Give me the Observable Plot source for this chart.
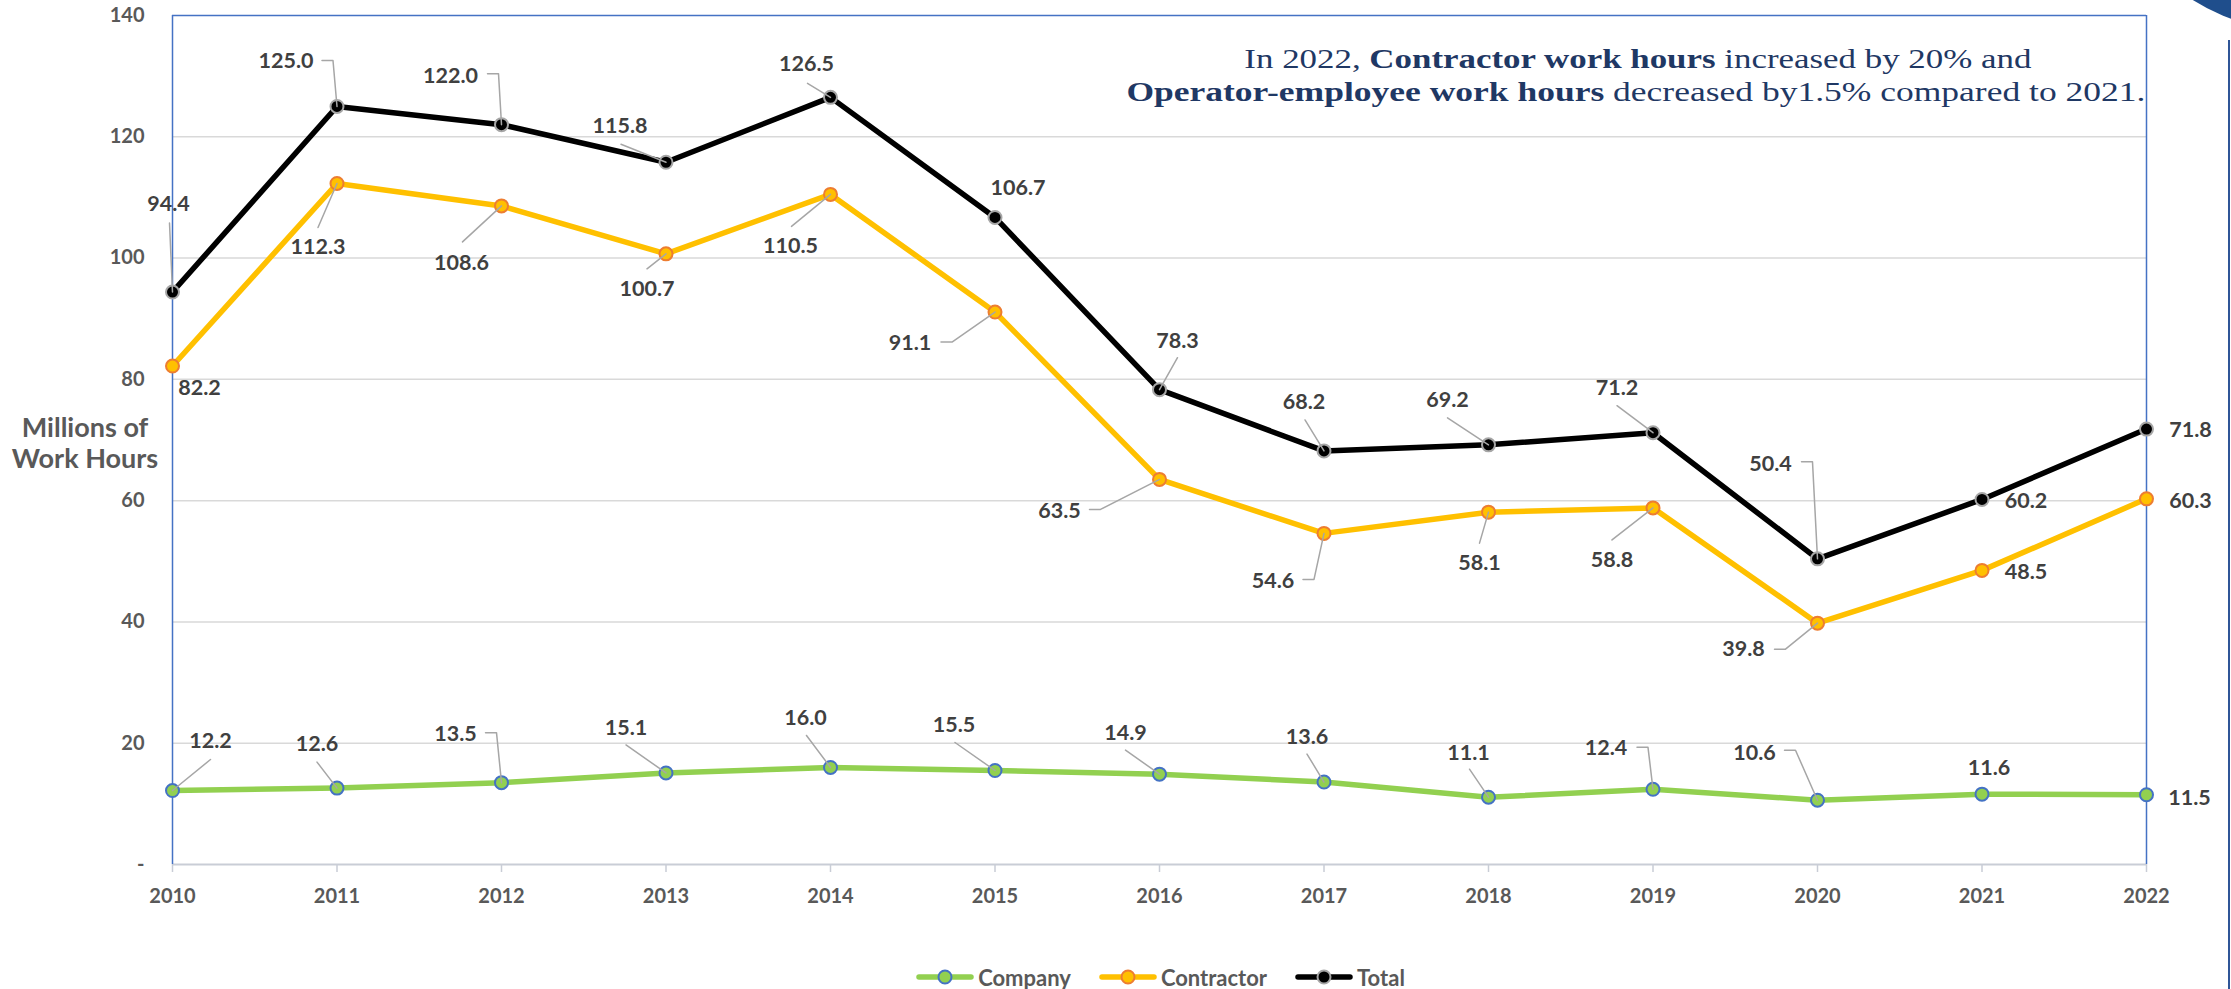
<!DOCTYPE html>
<html>
<head>
<meta charset="utf-8">
<script src="https://cdn.jsdelivr.net/npm/d3@7"></script>
<script src="https://cdn.jsdelivr.net/npm/@observablehq/plot@0.6"></script>
<style>
  html, body { margin: 0; padding: 0; background: #ffffff; }
  #wrap { position: relative; width: 2231px; height: 989px; overflow: hidden; font-family: Lato, "Open Sans", sans-serif; }
  #chart { position: absolute; left: 0; top: 0; }
  #ytitle { position: absolute; left: 0; width: 170px; top: 411px; text-align: center; font: bold 27px/31px Lato, sans-serif; color: #595959; }
  #legend { position: absolute; left: 45px; width: 2231px; top: 958px; height: 38px; display: flex; justify-content: center; align-items: center; font: bold 22px Lato, sans-serif; color: #595959; }
  #legend .item { display: flex; align-items: center; margin: 0 14px; }
  #legend svg { margin-right: 4px; }
  .nl { position: absolute; white-space: nowrap; font-family: "Liberation Serif", "Times New Roman", serif; font-size: 28px; line-height: 28px; color: #1F3864; transform-origin: center center; }
  .nl b { font-weight: bold; }
  #arc { position: absolute; left: 2099px; top: -371px; width: 402px; height: 402px; border-radius: 50%; background: #1F4E8C; }
  #vline { position: absolute; left: 2228px; top: 40px; width: 2px; height: 949px; background: #2F5597; }
</style>
</head>
<body>
<div id="wrap">
  <div id="chart"></div>
  <div id="ytitle">Millions of<br>Work Hours</div>
  <div class="nl" id="note1">In 2022, <b>Contractor work hours</b> increased by 20% and</div>
  <div class="nl" id="note2"><b>Operator-employee work hours</b> decreased by1.5% compared to 2021.</div>
  <div id="legend"></div>
  <div id="arc"></div>
  <div id="vline"></div>
</div>
<script>
// ---------------- data ----------------
const years = [2010, 2011, 2012, 2013, 2014, 2015, 2016, 2017, 2018, 2019, 2020, 2021, 2022];
const company = [12.2, 12.6, 13.5, 15.1, 16.0, 15.5, 14.9, 13.6, 11.1, 12.4, 10.6, 11.6, 11.5];
const contractor = [82.2, 112.3, 108.6, 100.7, 110.5, 91.1, 63.5, 54.6, 58.1, 58.8, 39.8, 48.5, 60.3];
const total = [94.4, 125.0, 122.0, 115.8, 126.5, 106.7, 78.3, 68.2, 69.2, 71.2, 50.4, 60.2, 71.8];
const yTicks = [0, 20, 40, 60, 80, 100, 120, 140];
const seriesNames = ["Company", "Contractor", "Total"];

// ---------------- label layout (pixel offsets from each point) ----------------
const companyLabelOffset = [[38,-49],[-20,-44],[-46,-49],[-40,-45],[-25,-49],[-41,-45],[-34,-41],[-17,-45],[-20,-44],[-47,-41],[-63,-47],[7,-26],[43,3]];
const contractorLabelOffset = [[27,22],[-19,64],[-40,57],[-19,35],[-40,52],[-85,31],[-100,32],[-51,48],[-9,51],[-41,52],[-74,26],[44,2],[44,2]];
const totalLabelOffset = [[-4,-88],[-51,-45],[-51,-49],[-46,-36],[-24,-33],[23,-29],[18,-49],[-20,-49],[-41,-45],[-36,-45],[-47,-95],[44,2],[44,1]];
// leader start offset [dx, dy, elbow]
const companyLeader = [[38,-31,0],[-20,-26,0],[-16,-50,1],[-40,-28,0],[-24,-32,0],[-40,-28,0],[-34,-24,0],[-17,-28,0],[-19,-28,0],[-16,-42,1],[-33,-50,1],null,null];
const contractorLeader = [null,[-19,44,0],[-39,36,0],[-19,15,0],[-39,32,0],[-54,30,1],[-70,30,1],[-21,46,1],[-9,31,0],[-41,32,0],[-43,26,1],null,null];
const totalLeader = [[-3,-69,0],[-15,-46,1],[-14,-51,1],[-45,-18,0],[-23,-14,0],null,[18,-32,0],[-19,-31,0],[-41,-27,0],[-36,-27,0],[-16,-97,1],null,null];

const styles = {
  Company:    {line: "#92D050", fill: "#92D050", stroke: "#4472C4"},
  Contractor: {line: "#FFC000", fill: "#FFC000", stroke: "#ED7D31"},
  Total:      {line: "#000000", fill: "#000000", stroke: "#A6A6A6"}
};
const seriesValues = {Company: company, Contractor: contractor, Total: total};
const seriesLabelOffset = {Company: companyLabelOffset, Contractor: contractorLabelOffset, Total: totalLabelOffset};
const seriesLeader = {Company: companyLeader, Contractor: contractorLeader, Total: totalLeader};

const points = seriesNames.flatMap(s => years.map((yr, i) => ({series: s, year: yr, value: seriesValues[s][i]})));
const labelRows = seriesNames.flatMap(s => years.map((yr, i) => ({
  series: s, year: yr, value: seriesValues[s][i],
  ox: seriesLabelOffset[s][i][0], oy: seriesLabelOffset[s][i][1]
})));
const leaderRows = [];
seriesNames.forEach(s => years.forEach((yr, i) => {
  const L = seriesLeader[s][i];
  if (!L) return;
  const id = s + yr, v = seriesValues[s][i];
  leaderRows.push({id, year: yr, value: v, ox: L[0], oy: L[1]});
  if (L[2]) leaderRows.push({id, year: yr, value: v, ox: L[0] + 11, oy: L[1]});
  leaderRows.push({id, year: yr, value: v, ox: 0, oy: 0});
}));

// initializer: place in pixel space, offset from the scaled data point
function pixelOffset(data, facets, channels, scales) {
  return {
    data, facets,
    channels: {
      x: {value: Float64Array.from(data, d => scales.x(d.year) + d.ox)},
      y: {value: Float64Array.from(data, d => scales.y(d.value) + d.oy)}
    }
  };
}

const marks = [
  Plot.gridY(yTicks.filter(t => t > 0 && t < 140), {stroke: "#D9D9D9", strokeOpacity: 1, strokeWidth: 1.5}),
  Plot.ruleY([0], {stroke: "#C9CDD6", strokeWidth: 2}),
  Plot.ruleY([140], {stroke: "#4472C4", strokeWidth: 1.5}),
  Plot.ruleX([years[0], years[years.length - 1]], {stroke: "#4472C4", strokeWidth: 1.5}),
  Plot.axisX(years, {tickSize: 8, tickPadding: 16, stroke: "#C9CDD6", strokeWidth: 1.5, fill: "#595959", fontSize: 20, fontWeight: "bold", tickFormat: d => String(d), label: null}),
  Plot.axisY(yTicks, {tickSize: 0, tickPadding: 28, fill: "#595959", fontSize: 20, fontWeight: "bold", tickFormat: d => d === 0 ? "-" : String(d), label: null})
];
seriesNames.forEach(s => {
  const rows = points.filter(d => d.series === s);
  marks.push(Plot.line(rows, {x: "year", y: "value", stroke: styles[s].line, strokeWidth: 5.5, strokeLinejoin: "round", strokeLinecap: "round"}));
  marks.push(Plot.dot(rows, {x: "year", y: "value", r: 6.5, fill: styles[s].fill, stroke: styles[s].stroke, strokeWidth: 2}));
});
marks.push(Plot.line(leaderRows, {x: "year", y: "value", z: "id", stroke: "#A6A6A6", strokeWidth: 1.5, initializer: pixelOffset}));
marks.push(Plot.text(labelRows, {x: "year", y: "value", text: d => d.value.toFixed(1), fill: "#404040", fontSize: 21.5, fontWeight: "bold", initializer: pixelOffset}));

const chart = Plot.plot({
  width: 2231,
  height: 950,
  marginLeft: 172,
  marginRight: 85,
  marginTop: 15,
  marginBottom: 86,
  style: {fontFamily: "Lato, 'Open Sans', sans-serif", background: "transparent", overflow: "visible"},
  x: {type: "linear", domain: [years[0], years[years.length - 1]]},
  y: {type: "linear", domain: [0, 140]},
  marks
});
document.getElementById("chart").appendChild(chart);

// ---------------- legend ----------------
const legend = document.getElementById("legend");
seriesNames.forEach(s => {
  const item = document.createElement("div");
  item.className = "item";
  item.innerHTML = `<svg width="58" height="16"><line x1="3" y1="8" x2="55" y2="8" stroke="${styles[s].line}" stroke-width="5.5" stroke-linecap="round"/><circle cx="29" cy="8" r="6.5" fill="${styles[s].fill}" stroke="${styles[s].stroke}" stroke-width="2"/></svg><span>${s}</span>`;
  legend.appendChild(item);
});

// ---------------- annotation ----------------
function placeLine(el, centerX, top, targetWidth) {
  const w = el.getBoundingClientRect().width;
  el.style.left = (centerX - w / 2) + "px";
  el.style.top = top + "px";
  el.style.transform = `scaleX(${targetWidth / w})`;
}
placeLine(document.getElementById("note1"), 1638, 45, 787);
placeLine(document.getElementById("note2"), 1636, 78, 1019);
</script>
</body>
</html>
